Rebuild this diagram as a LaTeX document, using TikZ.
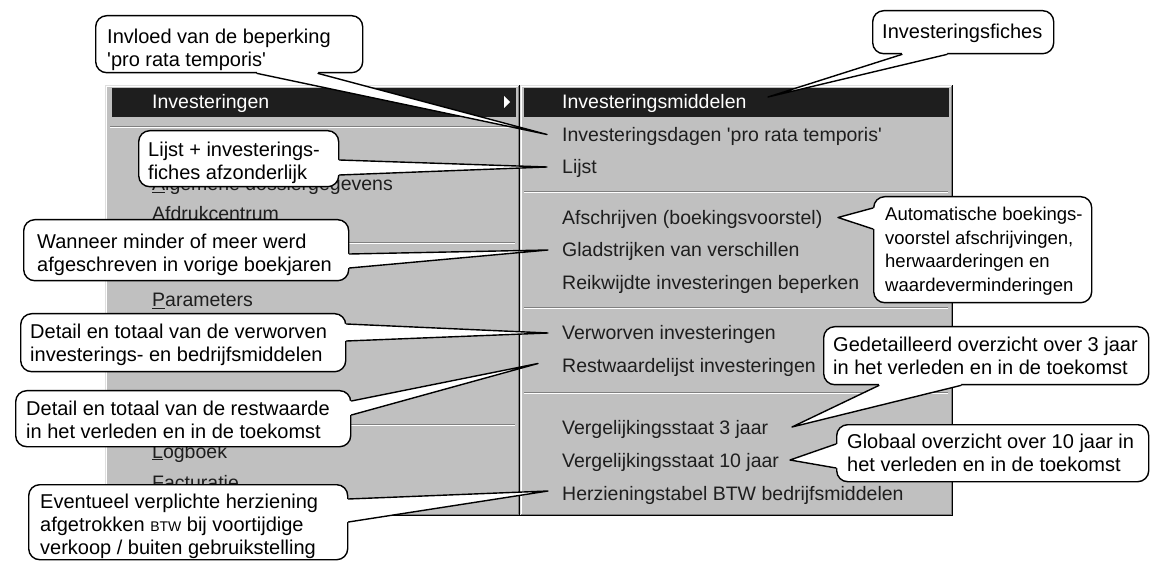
\documentclass[tikz,border=0pt]{standalone}
\usepackage{fontspec}
\setmainfont{Liberation Sans}
\usetikzlibrary{calc}
\definecolor{menugray}{HTML}{C0C0C0}
\definecolor{hiback}{HTML}{1E1E1E}
\definecolor{menuink}{HTML}{1E1E1E}
\definecolor{edgedark}{HTML}{808080}
\definecolor{edgelite}{HTML}{DFDFDF}
\begin{document}
\begin{tikzpicture}[x=1pt,y=-1pt,
  mitem/.style={anchor=base west, inner sep=0pt, text=menuink, font=\fontsize{19.5}{22}\selectfont},
  mhi/.style={mitem, text=white},
  ctext/.style={anchor=north west, inner sep=0pt, align=left, font=\fontsize{20}{23}\selectfont},
  cbox/.style={draw=black, line width=1.4pt, fill=white, rounded corners=11pt, anchor=north west, inner sep=0pt},
  tailline/.style={draw=black, line width=1.4pt, line join=round, line cap=round},
  sepd/.style={draw=edgedark, line width=1pt},
  sepl/.style={draw=white, line width=1pt},
]
\useasboundingbox (0,0) rectangle (1160,561);
\fill[white] (0,0) rectangle (1160,561);

% ---------------- left menu
\fill[menugray] (105,85) rectangle (520,516);
\draw[edgelite, line width=1pt] (105.5,516) -- (105.5,85.5) -- (520,85.5);
\draw[white, line width=1pt] (106.5,515) -- (106.5,86.5) -- (519,86.5);
\draw[edgedark, line width=1pt] (106,514.5) -- (518.5,514.5) -- (518.5,86);
\draw[black, line width=1pt] (105,515.5) -- (519.5,515.5) -- (519.5,85);
\fill[hiback] (112,88) rectangle (516,117);
\fill[white] (504,96) -- (510,102) -- (504,108) -- cycle;
\foreach \yy in {127,243,424}{
  \draw[sepd] (110,\yy) -- (515,\yy);
  \draw[sepl] (110,\yy+1) -- (515,\yy+1);
}
\node[mhi]   (L1) at (152,109) {Investeringen};
\node[mitem] (L2) at (152,191) {\underline{A}lgemene dossiergegevens};
\node[mitem] (L3) at (152,221) {Afdrukcentrum};
\node[mitem] (L4) at (152,307) {\underline{P}arameters};
\node[mitem] (L5) at (152,458) {\underline{L}ogboek};
\node[mitem] (L6) at (152,489) {Facturatie};

% ---------------- right menu
\fill[menugray] (520,85) rectangle (953,516);
\draw[edgelite, line width=1pt] (520.5,516) -- (520.5,85.5) -- (953,85.5);
\draw[white, line width=1pt] (521.5,515) -- (521.5,86.5) -- (952,86.5);
\draw[edgedark, line width=1pt] (521,514.5) -- (951.5,514.5) -- (951.5,86);
\draw[black, line width=1pt] (520,515.5) -- (952.5,515.5) -- (952.5,85);
\fill[hiback] (524,88) rectangle (949,117);
\foreach \yy in {192,308,393}{
  \draw[sepd] (524,\yy) -- (948,\yy);
  \draw[sepl] (524,\yy+1) -- (948,\yy+1);
}
\node[mhi]   (R1)  at (562,109)   {Investeringsmiddelen};
\node[mitem] (R2)  at (562,141.5) {Investeringsdagen \textquotesingle pro rata temporis\textquotesingle};
\node[mitem] (R3)  at (562,174)   {Lijst};
\node[mitem] (R4)  at (562,224.5) {Afschrijven (boekingsvoorstel)};
\node[mitem] (R5)  at (562,257)   {Gladstrijken van verschillen};
\node[mitem] (R6)  at (562,289.5) {Reikwijdte investeringen beperken};
\node[mitem] (R7)  at (562,340)   {Verworven investeringen};
\node[mitem] (R8)  at (562,372.5) {Restwaardelijst investeringen};
\node[mitem] (R9)  at (562,434)   {Vergelijkingsstaat 3 jaar};
\node[mitem] (R10) at (562,467)   {Vergelijkingsstaat 10 jaar};
\node[mitem] (R11) at (562,500)   {Herzieningstabel BTW bedrijfsmiddelen};

% ---------------- callouts
% C1
\node[cbox, minimum width=267pt, minimum height=57pt] (b1) at (95,15) {};
\coordinate (t1) at ($(R2.base west)+(-15,-7)$);
\coordinate (a1) at ($(b1.south west)+(162,0)$);
\coordinate (e1) at ($(b1.south west)+(223,0)$);
\fill[white] ($(a1)+(0,-3)$) -- (a1) -- (t1) -- (e1) -- ($(e1)+(0,-3)$) -- cycle;
\draw[tailline] (a1) -- (t1) -- (e1);
\node[ctext] (c1) at (107,29) {Invloed van de beperking\\\textquotesingle pro rata temporis\textquotesingle};

% C2
\node[cbox, minimum width=200pt, minimum height=56pt] (b2) at (138,130) {};
\coordinate (t2) at ($(R3.base west)+(-15,-7)$);
\coordinate (a2) at ($(b2.north east)+(0,30)$);
\coordinate (e2) at ($(b2.north east)+(0,45)$);
\fill[white] ($(a2)+(-3,0)$) -- (a2) -- (t2) -- (e2) -- ($(e2)+(-3,0)$) -- cycle;
\draw[tailline] (a2) -- (t2) -- (e2);
\node[ctext] (c2) at (148,142) {Lijst + investerings-\\fiches afzonderlijk};

% C3
\node[cbox, minimum width=325pt, minimum height=61pt] (b3) at (23,219) {};
\coordinate (t3) at ($(R5.base west)+(-14,-7)$);
\coordinate (a3) at ($(b3.north east)+(0,35)$);
\coordinate (e3) at ($(b3.north east)+(0,49)$);
\fill[white] ($(a3)+(-3,0)$) -- (a3) -- (t3) -- (e3) -- ($(e3)+(-3,0)$) -- cycle;
\draw[tailline] (a3) -- (t3) -- (e3);
\node[ctext] (c3) at (37,234) {Wanneer minder of meer werd\\afgeschreven in vorige boekjaren};

% C4
\node[cbox, minimum width=325pt, minimum height=58pt] (b4) at (20,313) {};
\coordinate (t4) at ($(R7.base west)+(-14,-7)$);
\coordinate (a4) at ($(b4.north east)+(0,11)$);
\coordinate (e4) at ($(b4.north east)+(0,28)$);
\fill[white] ($(a4)+(-3,0)$) -- (a4) -- (t4) -- (e4) -- ($(e4)+(-3,0)$) -- cycle;
\draw[tailline] (a4) -- (t4) -- (e4);
\node[ctext] (c4) at (30,324) {Detail en totaal van de verworven\\investerings- en bedrijfsmiddelen};

% C5
\node[cbox, minimum width=335pt, minimum height=56pt] (b5) at (15,390) {};
\coordinate (t5) at ($(R8.base west)+(-24,-9)$);
\coordinate (a5) at ($(b5.north east)+(0,11)$);
\coordinate (e5) at ($(b5.north east)+(0,25)$);
\fill[white] ($(a5)+(-3,0)$) -- (a5) -- (t5) -- (e5) -- ($(e5)+(-3,0)$) -- cycle;
\draw[tailline] (a5) -- (t5) -- (e5);
\node[ctext] (c5) at (26,401) {Detail en totaal van de restwaarde\\in het verleden en in de toekomst};

% C6
\node[cbox, minimum width=319pt, minimum height=75pt] (b6) at (28,484) {};
\coordinate (t6) at ($(R11.base west)+(-14,-9)$);
\coordinate (a6) at ($(b6.north east)+(0,15)$);
\coordinate (e6) at ($(b6.north east)+(0,38)$);
\fill[white] ($(a6)+(-3,0)$) -- (a6) -- (t6) -- (e6) -- ($(e6)+(-3,0)$) -- cycle;
\draw[tailline] (a6) -- (t6) -- (e6);
\node[ctext] (c6) at (40,494) {Eventueel verplichte herziening\\afgetrokken {\fontsize{14}{14}\selectfont BTW} bij voortijdige\\verkoop / buiten gebruikstelling};

% C7
\node[cbox, minimum width=181pt, minimum height=43pt] (b7) at (872,10) {};
\coordinate (t7) at ($(R1.base west)+(206,-12)$);
\coordinate (a7) at ($(b7.south west)+(30,0)$);
\coordinate (e7) at ($(b7.south west)+(75,0)$);
\fill[white] ($(a7)+(0,-3)$) -- (a7) -- (t7) -- (e7) -- ($(e7)+(0,-3)$) -- cycle;
\draw[tailline] (a7) -- (t7) -- (e7);
\node[ctext] (c7) at (882,24) {Investeringsfiches};

% C8
\node[cbox, minimum width=218pt, minimum height=106pt] (b8) at (873,196) {};
\coordinate (t8) at ($(R4.base west)+(276,-7)$);
\coordinate (a8) at ($(b8.north west)+(0,12)$);
\coordinate (e8) at ($(b8.north west)+(0,33)$);
\fill[white] ($(a8)+(3,0)$) -- (a8) -- (t8) -- (e8) -- ($(e8)+(3,0)$) -- cycle;
\draw[tailline] (a8) -- (t8) -- (e8);
\node[ctext, font=\fontsize{18.5}{23.5}\selectfont] (c8) at (885,207) {Automatische boekings-\\voorstel afschrijvingen,\\herwaarderingen en\\waardeverminderingen};

% C9
\node[cbox, minimum width=325pt, minimum height=58pt] (b9) at (823,326) {};
\coordinate (t9) at ($(R9.base west)+(230,-7)$);
\coordinate (a9) at ($(b9.south west)+(56,0)$);
\coordinate (e9) at ($(b9.south west)+(138,0)$);
\fill[white] ($(a9)+(0,-3)$) -- (a9) -- (t9) -- (e9) -- ($(e9)+(0,-3)$) -- cycle;
\draw[tailline] (a9) -- (t9) -- (e9);
\node[ctext] (c9) at (833,337) {Gedetailleerd overzicht over 3 jaar\\in het verleden en in de toekomst};

% C10
\node[cbox, minimum width=312pt, minimum height=57pt] (b10) at (836,424) {};
\coordinate (t10) at ($(R10.base west)+(228,-7)$);
\coordinate (a10) at ($(b10.north west)+(0,20)$);
\coordinate (e10) at ($(b10.north west)+(0,44)$);
\fill[white] ($(a10)+(3,0)$) -- (a10) -- (t10) -- (e10) -- ($(e10)+(3,0)$) -- cycle;
\draw[tailline] (a10) -- (t10) -- (e10);
\node[ctext] (c10) at (847,434) {Globaal overzicht over 10 jaar in\\het verleden en in de toekomst};
\end{tikzpicture}
\end{document}
